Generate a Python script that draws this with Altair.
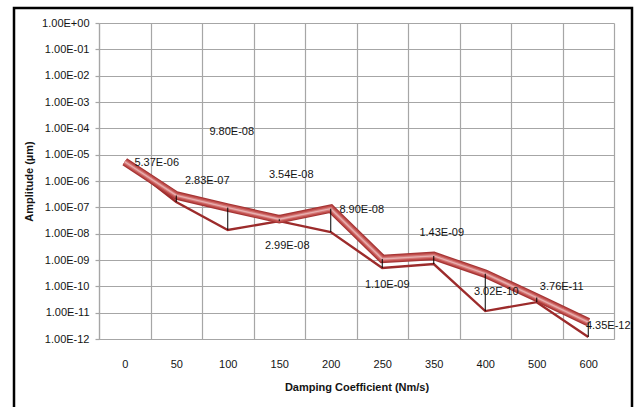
import altair as alt
import pandas as pd

# Damping coefficient categories (Nm/s) and measured amplitudes (µm)
categories = ["0", "50", "100", "150", "200", "250", "350", "400", "500", "600"]
amp_upper = [5.37e-06, 2.83e-07, 9.80e-08, 3.54e-08, 8.90e-08, 1.10e-09, 1.43e-09, 3.02e-10, 3.76e-11, 4.35e-12]
amp_lower = [5.37e-06, 1.60e-07, 1.38e-08, 2.99e-08, 1.15e-08, 5.00e-10, 7.00e-10, 1.15e-11, 2.50e-11, 1.20e-12]

# Which points carry a value label: (category, series)
labelled = [("0", "upper"), ("50", "upper"), ("100", "upper"), ("150", "upper"),
            ("150", "lower"), ("200", "upper"), ("250", "upper"), ("350", "upper"),
            ("400", "upper"), ("500", "upper"), ("600", "upper")]
# Pixel nudges for each label (dx, dy), same order as `labelled`
label_nudges = [(32, 1), (31, -14), (4, -76), (12, -44), (8, 25), (31, 1),
                (5, 26), (8, -23), (11, 18), (25, -11), (20, 4)]

decades = list(range(0, 13))
y_ticks = [10.0 ** -k for k in decades]
y_tick_text = [f"{v:.2E}" for v in y_ticks]

df = pd.DataFrame({"idx": range(len(categories)), "category": categories,
                   "upper": amp_upper, "lower": amp_lower})
df["hi"] = df[["upper", "lower"]].max(axis=1)
df["lo"] = df[["upper", "lower"]].min(axis=1)

series_vals = {"upper": amp_upper, "lower": amp_lower}
lab = pd.DataFrame({
    "idx": [categories.index(c) for c, s in labelled],
    "value": [series_vals[s][categories.index(c)] for c, s in labelled],
})
lab["text"] = [f"{v:.2E}" for v in lab["value"]]
lab["k"] = range(len(lab))

FONT = "Liberation Sans Narrow, Liberation Sans, Arial"
GRID = "#a6a6a6"
INK = "#141414"

cat_js = "[" + ",".join(f"'{c}'" for c in categories) + "]"
ytxt_js = "[" + ",".join(f"'{t}'" for t in y_tick_text) + "]"

x_enc = alt.X(
    "idx:Q",
    scale=alt.Scale(domain=[-0.5, len(categories) - 0.5], nice=False, zero=False),
    axis=alt.Axis(
        values=[i - 0.5 for i in range(len(categories) + 1)],
        labelExpr=f"datum.value > {len(categories) - 1} ? '' : {cat_js}[round(datum.value + 0.5)]",
        labelOffset=25.75, labelFlush=False, labelOverlap=False, labelBound=False,
        ticks=False, grid=True, gridColor=GRID, gridWidth=1.2,
        domainColor=GRID, domainWidth=1.2, labelPadding=19,
        labelFont=FONT, labelFontSize=11, labelColor=INK,
        title="Damping Coefficient (Nm/s)", titleFont=FONT, titleFontSize=11,
        titleFontWeight="bold", titleColor=INK, titleY=48, titleBaseline="middle",
    ),
)
y_scale = alt.Scale(type="log", domain=[1e-12, 1], nice=False)
y_axis = alt.Axis(
    values=y_ticks,
    labelExpr=f"{ytxt_js}[round(-log(datum.value) / LN10)]",
    labelFlush=False, labelOverlap=False, labelBound=False,
    tickSize=4, tickColor=GRID, tickWidth=1.2, labelPadding=6,
    grid=True, gridColor=GRID, gridWidth=1.2, domainColor=GRID, domainWidth=1.2,
    labelFont=FONT, labelFontSize=11, labelColor=INK,
    title="Amplitude (µm)", titleFont=FONT, titleFontSize=11, titleFontWeight="bold",
    titleColor=INK, titleX=-70, titleY=158, titleBaseline="middle", titleAngle=-90,
)

base = alt.Chart(df)

frame = alt.Chart(alt.Data(values=[{}])).mark_rect(
    filled=False, stroke="black", strokeWidth=2.5
).encode(x=alt.value(-85), x2=alt.value(533), y=alt.value(-15), y2=alt.value(400))

thin = base.mark_line(color="#9c2b2b", strokeWidth=2.4).encode(
    x=x_enc, y=alt.Y("lower:Q", scale=y_scale, axis=y_axis))

# Shaded "tube" look for the main series: dark rim, lighter core
tube_layers = [
    base.mark_line(color=c, strokeWidth=w).encode(x="idx:Q", y="upper:Q")
    for c, w in [("#a53535", 8.5), ("#c04d4b", 6.2), ("#d37877", 3.6), ("#e8aeae", 1.4)]
]

hilo = base.mark_rule(color="black", strokeWidth=1).encode(
    x="idx:Q", y="hi:Q", y2="lo:Q")

text_layers = []
for k, (dx, dy) in enumerate(label_nudges):
    text_layers.append(
        alt.Chart(lab).transform_filter(alt.datum.k == k).mark_text(
            dx=dx, dy=dy, font=FONT, fontSize=11, color=INK,
            align="center", baseline="middle",
        ).encode(x="idx:Q", y="value:Q", text="text:N")
    )

chart = alt.layer(frame, thin, *tube_layers, hilo, *text_layers).properties(
    width=515, height=316,
    autosize=alt.AutoSizeParams(type="none"),
    padding={"left": 99, "top": 23, "right": 21, "bottom": 68},
    background="white",
).configure_view(stroke="transparent")

chart.save("out.html", embed_options={"renderer": "svg", "actions": False})
